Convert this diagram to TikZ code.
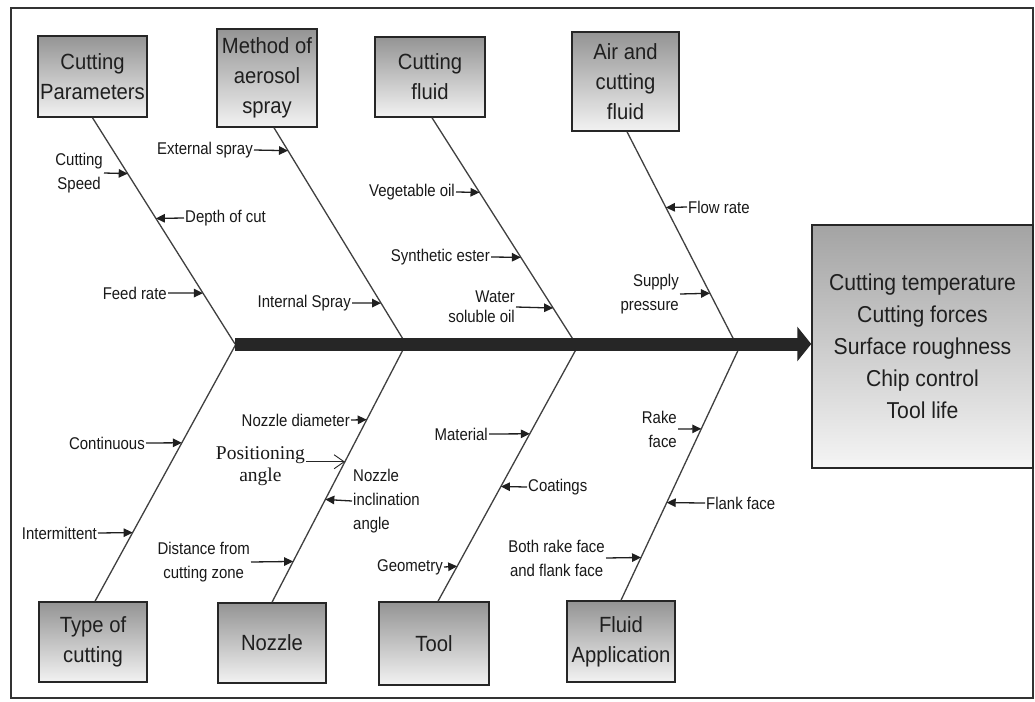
\documentclass[tikz,border=0pt]{standalone}
\usepackage{fontspec}
\setmainfont{Liberation Sans}
\newfontfamily\boxfont[FakeStretch=0.92]{Liberation Sans}
\newfontfamily\labfont[FakeStretch=0.88]{Liberation Sans}
\newfontfamily\serfont{Liberation Serif}
\usetikzlibrary{arrows.meta,calc}
\begin{document}
\begin{tikzpicture}[x=1pt,y=-1pt,
  cause/.style={draw=black!85, line width=1.5pt, top color=black!42, bottom color=black!5,
    font=\boxfont\fontsize{22}{30}\selectfont, text=black!88, align=center, inner sep=0pt},
  lab/.style={font=\labfont\fontsize{17}{24}\selectfont, text=black!90, inner sep=1pt},
  bone/.style={line width=1.3pt, draw=black!75},
  sub/.style={line width=1.3pt, draw=black!88, -{Triangle[length=9pt,width=8.5pt]}},
  opensub/.style={line width=0.9pt, draw=black!85, -{Straight Barb[length=10pt,width=14pt]}}
]
\useasboundingbox (0,0) rectangle (1035,701);
\fill[white] (0,0) rectangle (1035,701);
\draw[line width=1.4pt, black!80] (11,8) rectangle (1033,698);

% cause boxes
\node[cause, minimum width=109pt, minimum height=81pt] (cp)  at (92.5,76.5) {Cutting\\Parameters};
\node[cause, minimum width=100pt, minimum height=98pt] (mas) at (267,78) {Method of\\aerosol\\spray};
\node[cause, minimum width=110pt, minimum height=80pt] (cf)  at (430,77) {Cutting\\fluid};
\node[cause, minimum width=107pt, minimum height=99pt] (acf) at (625.5,81.5) {Air and\\cutting\\fluid};
\node[cause, minimum width=108pt, minimum height=80pt] (toc) at (93,642) {Type of\\cutting};
\node[cause, minimum width=108pt, minimum height=80pt] (noz) at (272,643) {Nozzle};
\node[cause, minimum width=110pt, minimum height=83pt] (tool) at (434,643.5) {Tool};
\node[cause, minimum width=108pt, minimum height=81pt] (fa)  at (621,641.5) {Fluid\\Application};
\node[cause, minimum width=221pt, minimum height=243pt, top color=black!36, bottom color=black!4,
  font=\boxfont\fontsize{23}{32}\selectfont] (eff) at (922.5,346.5)
  {Cutting temperature\\Cutting forces\\Surface roughness\\Chip control\\Tool life};

% joints on the spine
\coordinate (j1) at (235,344);
\coordinate (j2) at (406,344);
\coordinate (j3) at (576,344);
\coordinate (j4) at (736,344);
\coordinate (k1) at (236,344);
\coordinate (k2) at (406,344);
\coordinate (k3) at (579,344);
\coordinate (k4) at (741,344);

% bones
\draw[bone] (cp.south) -- (j1) coordinate[pos=0.247] (a1) coordinate[pos=0.445] (a2) coordinate[pos=0.775] (a3);
\draw[bone] ([xshift=7pt]mas.south) -- (j2) coordinate[pos=0.106] (b1) coordinate[pos=0.811] (b2);
\draw[bone] ([xshift=2pt]cf.south) -- (j3) coordinate[pos=0.330] (c1) coordinate[pos=0.617] (c2) coordinate[pos=0.841] (c3);
\draw[bone] ([xshift=1.5pt]acf.south) -- (j4) coordinate[pos=0.357] (d1) coordinate[pos=0.761] (d2);
\draw[bone] (k1) -- ([xshift=2pt]toc.north) coordinate[pos=0.384] (e1) coordinate[pos=0.733] (e2);
\draw[bone] (k2) -- (noz.north) coordinate[pos=0.293] (f1) coordinate[pos=0.456] (f2) coordinate[pos=0.602] (f3) coordinate[pos=0.842] (f4);
\draw[bone] (k3) -- ([xshift=4pt]tool.north) coordinate[pos=0.349] (g1) coordinate[pos=0.554] (g2) coordinate[pos=0.864] (g3);
\draw[bone] (k4) -- (fa.north) coordinate[pos=0.331] (h1) coordinate[pos=0.619] (h2) coordinate[pos=0.833] (h3);

% spine
\draw[line width=13pt, draw=black!85, -{Triangle[length=14pt,width=34pt]}] (j1) -- (j1 -| eff.west);

% sub-causes: Cutting Parameters
\node[lab, anchor=east, align=center] (l11) at (104,173) {Cutting\\Speed};
\node[lab, anchor=west] (l12) at (184,218) {Depth of cut};
\node[lab, anchor=east] (l13) at (168,293) {Feed rate};
\draw[sub] (l11.east) -- (a1);
\draw[sub] (l12.west) -- (a2);
\draw[sub] (l13.east) -- (a3);

% Method of aerosol spray
\node[lab, anchor=east] (l21) at (254,150) {External spray};
\node[lab, anchor=east] (l22) at (352,303) {Internal Spray};
\draw[sub] (l21.east) -- (b1);
\draw[sub] (l22.east) -- (b2);

% Cutting fluid
\node[lab, anchor=east] (l31) at (456,192) {Vegetable oil};
\node[lab, anchor=east] (l32) at (491,257) {Synthetic ester};
\node[lab, anchor=east, align=right, font=\labfont\fontsize{17}{20}\selectfont] (l33) at (516,307) {Water\\soluble oil};
\draw[sub] (l31.east) -- (c1);
\draw[sub] (l32.east) -- (c2);
\draw[sub] (l33.east) -- (c3);

% Air and cutting fluid
\node[lab, anchor=west] (l41) at (687,207) {Flow rate};
\node[lab, anchor=east, align=right] (l42) at (680,294) {Supply\\pressure};
\draw[sub] (l41.west) -- (d1);
\draw[sub] (l42.east) -- (d2);

% Type of cutting
\node[lab, anchor=east] (l51) at (146,443) {Continuous};
\node[lab, anchor=east] (l52) at (98,533) {Intermittent};
\draw[sub] (l51.east) -- (e1);
\draw[sub] (l52.east) -- (e2);

% Nozzle
\node[lab, anchor=east] (l61) at (351,420) {Nozzle diameter};
\node[anchor=east, align=center, inner sep=1pt, text=black!90, font=\serfont\fontsize{19.5}{22}\selectfont] (l62) at (306,466) {Positioning\\angle};
\node[lab, anchor=west, align=left] (l63) at (352,501) {Nozzle\\inclination\\angle};
\node[lab, anchor=east, align=center] (l64) at (251,562) {Distance from\\cutting zone};
\draw[sub] (l61.east) -- (f1);
\draw[opensub] (l62.east |- f2) -- (f2);
\draw[sub] (l63.west) -- (f3);
\draw[sub] (l64.east) -- (f4);

% Tool
\node[lab, anchor=east] (l71) at (489,434) {Material};
\node[lab, anchor=west] (l72) at (527,487) {Coatings};
\node[lab, anchor=east] (l73) at (444,567) {Geometry};
\draw[sub] (l71.east) -- (g1);
\draw[sub] (l72.west) -- (g2);
\draw[sub] (l73.east) -- (g3);

% Fluid Application
\node[lab, anchor=east, align=right] (l81) at (678,429) {Rake\\face};
\node[lab, anchor=west] (l82) at (705,503) {Flank face};
\node[lab, anchor=east, align=center] (l83) at (606,558) {Both rake face\\and flank face};
\draw[sub] (l81.east) -- (h1);
\draw[sub] (l82.west) -- (h2);
\draw[sub] (l83.east) -- (h3);
\end{tikzpicture}
\end{document}
